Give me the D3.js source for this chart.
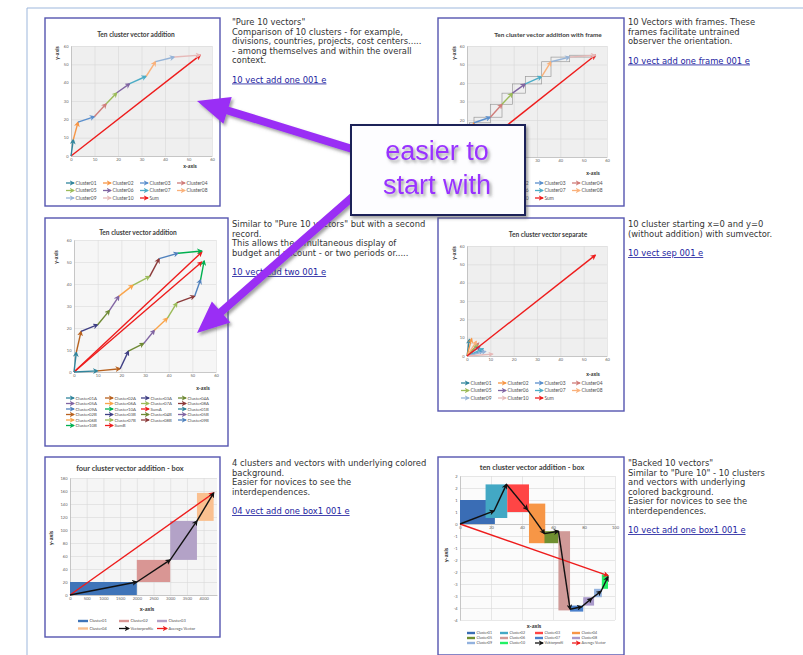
<!DOCTYPE html>
<html>
<head>
<meta charset="utf-8">
<script src="https://cdn.jsdelivr.net/npm/d3@7"></script>
<style>
body { margin: 0; background: #fff; }
svg { display: block; }
</style>
</head>
<body>
<div id="content"></div>
<script>
// page size
var width = 803, height = 655;

var svg = d3.select("#content")
    .append("svg")
    .attr("width", width)
    .attr("height", height);
var defs = svg.append("defs");

// ---------- data ----------
var clusterNames = ["Cluster01", "Cluster02", "Cluster03", "Cluster04", "Cluster05",
                    "Cluster06", "Cluster07", "Cluster08", "Cluster09", "Cluster10"];
var clusterColors = ["#31859c", "#f79646", "#5b8fcc", "#d07c79", "#9bbb59",
                     "#8064a2", "#4bacc6", "#fab17a", "#95b3d7", "#e6b9b8"];
var sumColor = "#ee1c1c";

var ticks60 = [0, 10, 20, 30, 40, 50, 60];

// tips of the added vectors ("Pure 10 vectors")
var addX = [0, 1, 3, 10, 15, 19.5, 25, 32, 36, 44, 55];
var addY = [0, 9, 18.5, 21.5, 28.5, 34.5, 39.5, 43.5, 51.5, 54, 55];

// the same ten vectors drawn from the origin
var sepX = [1, 2, 7, 5, 4.5, 5.5, 7, 4, 8, 11];
var sepY = [9, 9.5, 3, 7, 6, 5, 4, 8, 2.5, 1];

// two records A and B
var twoColors = ["#31859c", "#b8621f", "#3f3f85", "#6f8a35", "#8064a2",
                 "#f9a44a", "#9bbb59", "#8b3a3a", "#4f81bd", "#00b050"];
var twoAX = [0, 1, 3, 10, 15, 19, 25, 32, 36, 44, 54];
var twoAY = [0, 9, 18.5, 21.5, 28, 34.5, 39.5, 43.5, 51.5, 54, 55];
var twoBX = [0, 10, 19.5, 23, 29.5, 34, 39.5, 43.5, 51, 53.5, 55];
var twoBY = [0, 0.5, 1.5, 9.5, 13, 19, 24.5, 31.5, 34.5, 42, 50.5];
var sumAEnd = [54, 54.5];
var sumBEnd = [54, 50];

// four cluster box chart
var box4Names = ["Cluster01", "Cluster02", "Cluster03", "Cluster04"];
var box4Colors = ["#3f74b8", "#d99694", "#b3a2c7", "#fac090"];
var prof4X = [0, 2000, 3000, 3800, 4300];
var prof4Y = [0, 20, 54, 114, 157];
var ticks4X = [0, 500, 1000, 1500, 2000, 2500, 3000, 3500, 4000];
var ticks4Y = [0, 20, 40, 60, 80, 100, 120, 140, 160, 180];

// ten cluster box chart
var box10Colors = ["#3a6db5", "#43a8c4", "#ff4545", "#f79646", "#6f8f30",
                   "#d09a98", "#4a80cc", "#aa9acb", "#93b2de", "#22f064"];
var prof10X = [0, 22, 30, 43.5, 54.5, 63.5, 71, 78.5, 85, 91, 95.5];
var prof10Y = [0, 0.55, 1.65, 0.6, -0.4, -0.3, -3.55, -3.45, -3.1, -2.8, -2.2];
var box10X0 = [0, 16.5, 30.5, 44.5, 54.5, 63.5, 71, 79.5, 86.5, 91.5];
var box10X1 = [22.5, 30.5, 44.5, 55, 63.5, 71, 79.5, 86.5, 91.5, 95.5];
var box10Y0 = [0, 0.25, 0.5, -0.8, -0.8, -3.6, -3.65, -3.4, -3.05, -2.7];
var box10Y1 = [1, 1.65, 1.65, 0.85, -0.3, -0.3, -3.4, -3.05, -2.7, -2.1];
var avg10End = [95.5, -2.15];
var ticks10X = [0, 20, 40, 60, 80, 100];
var ticks10Y = [2, 1.5, 1, 0.5, 0, -0.5, -1, -1.5, -2, -2.5, -3, -3.5, -4];
var labels10Y = ["2", "2", "1", "1", "0", "-1", "-1", "-2", "-2", "-3", "-3", "-4", "-4"];

// ---------- helpers ----------
function marker(color) {
    var id = "m" + color.replace("#", "");
    if (defs.select("#" + id).empty()) {
        defs.append("marker")
            .attr("id", id)
            .attr("viewBox", "0 0 10 10")
            .attr("refX", 8).attr("refY", 5)
            .attr("markerWidth", 4.2).attr("markerHeight", 4.2)
            .attr("orient", "auto")
            .append("path")
            .attr("d", "M0,0L10,5L0,10L3,5z")
            .attr("fill", color);
    }
    return "url(#" + id + ")";
}

function chart(o) {
    var g = svg.append("g");
    g.append("rect")
        .attr("x", o.fx).attr("y", o.fy).attr("width", o.fw).attr("height", o.fh)
        .attr("fill", "#fff").attr("stroke", "#5555b0").attr("stroke-width", 1.4);

    var xs = d3.scaleLinear().domain(o.xd).range([o.px0, o.px1]);
    var ys = d3.scaleLinear().domain(o.yd).range([o.py0, o.py1]);

    g.append("rect")
        .attr("x", o.px0).attr("y", o.py1)
        .attr("width", o.px1 - o.px0).attr("height", o.py0 - o.py1)
        .attr("fill", o.bg);

    var gx = g.append("g").attr("transform", "translate(0," + o.py0 + ")")
        .call(d3.axisBottom(xs).tickValues(o.xticks).tickSize(o.py1 - o.py0).tickFormat(""));
    var gy = g.append("g").attr("transform", "translate(" + o.px0 + ",0)")
        .call(d3.axisLeft(ys).tickValues(o.yticks).tickSize(o.px0 - o.px1).tickFormat(""));
    [gx, gy].forEach(function(a) {
        a.select(".domain").remove();
        a.selectAll("line").attr("stroke", o.grid).attr("stroke-width", 0.6);
    });

    var xAt = o.xAt === undefined ? o.yd[0] : o.xAt;
    var lx = g.append("g").attr("transform", "translate(0," + ys(xAt) + ")")
        .call(d3.axisBottom(xs).tickValues(o.xticks).tickSize(0).tickPadding(2.5)
            .tickFormat(d3.format("d")));
    var ly = g.append("g").attr("transform", "translate(" + o.px0 + ",0)")
        .call(d3.axisLeft(ys).tickValues(o.yticks).tickSize(0).tickPadding(2.5)
            .tickFormat(o.ylabels ? function(d, i) { return o.ylabels[i]; } : d3.format("d")));
    [lx, ly].forEach(function(a) {
        a.select(".domain").attr("stroke", "#b0b0b0").attr("stroke-width", 0.6);
        a.selectAll("text").attr("font-size", o.tick).attr("fill", "#606060")
            .attr("font-family", "Lato, sans-serif");
    });

    g.append("text")
        .attr("x", o.tx).attr("y", o.ty)
        .attr("text-anchor", "middle")
        .attr("font-family", "Lato, sans-serif").attr("font-weight", "bold")
        .attr("font-size", o.tsize).attr("fill", "#404040")
        .text(o.title);
    g.append("text")
        .attr("x", o.xlab[0]).attr("y", o.xlab[1])
        .attr("text-anchor", "middle")
        .attr("font-family", "Lato, sans-serif").attr("font-weight", "bold")
        .attr("font-size", o.lsize).attr("fill", "#303030")
        .text("x-axis");
    g.append("text")
        .attr("transform", "translate(" + o.ylab[0] + "," + o.ylab[1] + ") rotate(-90)")
        .attr("text-anchor", "middle")
        .attr("font-family", "Lato, sans-serif").attr("font-weight", "bold")
        .attr("font-size", o.lsize).attr("fill", "#303030")
        .text("y-axis");
    return { g: g, xs: xs, ys: ys };
}

// consecutive arrows through a list of points
function chain(c, px, py, colors, sw) {
    c.g.selectAll(null)
        .data(d3.range(px.length - 1))
        .join("line")
        .attr("x1", function(i) { return c.xs(px[i]); })
        .attr("y1", function(i) { return c.ys(py[i]); })
        .attr("x2", function(i) { return c.xs(px[i + 1]); })
        .attr("y2", function(i) { return c.ys(py[i + 1]); })
        .attr("stroke", function(i) { return colors[i]; })
        .attr("stroke-width", sw)
        .attr("marker-end", function(i) { return marker(colors[i]); });
}

function vec(c, x0, y0, x1, y1, color, sw) {
    c.g.append("line")
        .attr("x1", c.xs(x0)).attr("y1", c.ys(y0))
        .attr("x2", c.xs(x1)).attr("y2", c.ys(y1))
        .attr("stroke", color).attr("stroke-width", sw)
        .attr("marker-end", marker(color));
}

function legend(g, items, cols, rows, fs, len) {
    items.forEach(function(it, i) {
        var x = cols[i % cols.length], y = rows[Math.floor(i / cols.length)];
        if (it.bar) {
            g.append("rect").attr("x", x).attr("y", y - 1.2).attr("width", len).attr("height", 2.4)
                .attr("fill", it.color);
        } else {
            g.append("line").attr("x1", x).attr("y1", y).attr("x2", x + len).attr("y2", y)
                .attr("stroke", it.color).attr("stroke-width", 1.3)
                .attr("marker-end", marker(it.color));
        }
        g.append("text").attr("x", x + len + 1.5).attr("y", y + fs * 0.35)
            .attr("font-family", "Lato, sans-serif").attr("font-size", fs).attr("fill", "#505050")
            .text(it.name);
    });
}

var tenLegend = clusterNames.map(function(n, i) { return { name: n, color: clusterColors[i] }; })
    .concat([{ name: "Sum", color: sumColor }]);

// ---------- page frame ----------
svg.append("line").attr("x1", 27).attr("y1", 8).attr("x2", width).attr("y2", 8)
    .attr("stroke", "#9db7dc").attr("stroke-width", 1);
svg.append("line").attr("x1", 27).attr("y1", 8).attr("x2", 27).attr("y2", height)
    .attr("stroke", "#9db7dc").attr("stroke-width", 1);

// ---------- chart 1: Ten cluster vector addition ----------
var c1 = chart({
    fx: 45, fy: 18, fw: 175, fh: 188, title: "Ten cluster vector addition", tx: 136, ty: 37, tsize: 6.6,
    xd: [0, 60], yd: [0, 60], px0: 71, px1: 212, py0: 156, py1: 46,
    xticks: ticks60, yticks: ticks60, bg: "#efefef", grid: "#d6d6d6", tick: 4,
    xlab: [190, 168], ylab: [59, 53], lsize: 5.2
});
vec(c1, 0, 0, addX[10], addY[10], sumColor, 1.4);
chain(c1, addX, addY, clusterColors, 1.4);
legend(c1.g, tenLegend, [66, 103, 140, 177], [183, 190.5, 198], 4.9, 8);

// ---------- chart 2: with frame ----------
var c2 = chart({
    fx: 438, fy: 18, fw: 186, fh: 188, title: "Ten cluster vector addition with frame", tx: 548, ty: 37, tsize: 6.4,
    xd: [0, 60], yd: [0, 60], px0: 467, px1: 607, py0: 157, py1: 46,
    xticks: ticks60, yticks: ticks60, bg: "#efefef", grid: "#d6d6d6", tick: 4,
    xlab: [593, 175], ylab: [456, 53], lsize: 5.2
});
c2.g.selectAll(null)
    .data(d3.range(addX.length - 1))
    .join("rect")
    .attr("x", function(i) { return c2.xs(addX[i]); })
    .attr("y", function(i) { return c2.ys(addY[i + 1]); })
    .attr("width", function(i) { return c2.xs(addX[i + 1]) - c2.xs(addX[i]); })
    .attr("height", function(i) { return c2.ys(addY[i]) - c2.ys(addY[i + 1]); })
    .attr("fill", "none").attr("stroke", "#9a9a9a").attr("stroke-width", 0.7);
vec(c2, 0, 0, addX[10], addY[10], sumColor, 1.4);
chain(c2, addX, addY, clusterColors, 1.4);
legend(c2.g, tenLegend, [461, 498, 535, 572], [183, 190.5, 198], 4.9, 8);

// ---------- chart 3: two records ----------
var c3 = chart({
    fx: 45, fy: 218, fw: 183, fh: 228, title: "Ten cluster vector addition", tx: 138, ty: 235, tsize: 6.6,
    xd: [0, 60], yd: [0, 60], px0: 74, px1: 216, py0: 372, py1: 240,
    xticks: ticks60, yticks: ticks60, bg: "#f6f6f6", grid: "#dcdcdc", tick: 4,
    xlab: [203, 390], ylab: [58, 257], lsize: 5.2
});
vec(c3, 0, 0, sumAEnd[0], sumAEnd[1], sumColor, 1.4);
vec(c3, 0, 0, sumBEnd[0], sumBEnd[1], sumColor, 1.4);
chain(c3, twoAX, twoAY, twoColors, 1.4);
chain(c3, twoBX, twoBY, twoColors, 1.4);
var twoLegend = [];
["A", "B"].forEach(function(s) {
    twoColors.forEach(function(col, i) {
        twoLegend.push({ name: clusterNames[i] + s, color: col });
    });
    twoLegend.push({ name: "Sum" + s, color: sumColor });
});
legend(c3.g, twoLegend, [66, 105, 141, 178], [398, 403.5, 409, 414.5, 420, 425.5], 4.3, 8);

// ---------- chart 4: separate ----------
var c4 = chart({
    fx: 438, fy: 218, fw: 186, fh: 193, title: "Ten cluster vector separate", tx: 548, ty: 237, tsize: 6.6,
    xd: [0, 60], yd: [0, 60], px0: 467, px1: 607, py0: 356, py1: 246,
    xticks: ticks60, yticks: ticks60, bg: "#efefef", grid: "#d6d6d6", tick: 4,
    xlab: [593, 376], ylab: [456, 253], lsize: 5.2
});
sepX.forEach(function(d, i) { vec(c4, 0, 0, sepX[i], sepY[i], clusterColors[i], 1.3); });
vec(c4, 0, 0, addX[10], addY[10], sumColor, 1.4);
legend(c4.g, tenLegend, [461, 498, 535, 572], [383, 390.5, 398], 4.9, 8);

// ---------- chart 5: four cluster box ----------
var c5 = chart({
    fx: 45, fy: 457, fw: 175, fh: 180, title: "four cluster vector addition - box", tx: 130, ty: 471, tsize: 7.4,
    xd: [0, 4400], yd: [0, 180], px0: 70, px1: 217, py0: 595, py1: 478,
    xticks: ticks4X, yticks: ticks4Y, bg: "#f5f5f5", grid: "#d8d8d8", tick: 4,
    xlab: [147, 611], ylab: [53, 538], lsize: 5.6
});
c5.g.selectAll(null)
    .data(d3.range(prof4X.length - 1))
    .join("rect")
    .attr("x", function(i) { return c5.xs(prof4X[i]); })
    .attr("y", function(i) { return c5.ys(prof4Y[i + 1]); })
    .attr("width", function(i) { return c5.xs(prof4X[i + 1]) - c5.xs(prof4X[i]); })
    .attr("height", function(i) { return c5.ys(prof4Y[i]) - c5.ys(prof4Y[i + 1]); })
    .attr("fill", function(i) { return box4Colors[i]; });
vec(c5, 0, 0, prof4X[4], prof4Y[4], sumColor, 1.4);
chain(c5, prof4X, prof4Y, ["#111", "#111", "#111", "#111"], 1.4);
legend(c5.g, box4Names.map(function(n, i) { return { name: n, color: box4Colors[i], bar: true }; })
    .concat([{ name: "Vectorprofile", color: "#111" }, { name: "Average Vector", color: sumColor }]),
    [78, 119, 157], [621, 628.5], 4, 10);

// ---------- chart 6: ten cluster box ----------
var c6 = chart({
    fx: 438, fy: 457, fw: 186, fh: 198, title: "ten cluster vector addition - box", tx: 532, ty: 470, tsize: 7.4,
    xd: [0, 100], yd: [-4, 2], px0: 460, px1: 615, py0: 620, py1: 476,
    xticks: ticks10X, yticks: ticks10Y, ylabels: labels10Y, xAt: 0,
    bg: "#fbfbfb", grid: "#d8d8d8", tick: 4,
    xlab: [534, 628], ylab: [448, 555], lsize: 5.6
});
c6.g.selectAll(null)
    .data(d3.range(box10X0.length))
    .join("rect")
    .attr("x", function(i) { return c6.xs(box10X0[i]); })
    .attr("y", function(i) { return c6.ys(box10Y1[i]); })
    .attr("width", function(i) { return c6.xs(box10X1[i]) - c6.xs(box10X0[i]); })
    .attr("height", function(i) { return c6.ys(box10Y0[i]) - c6.ys(box10Y1[i]); })
    .attr("fill", function(i) { return box10Colors[i]; });
vec(c6, 0, 0, avg10End[0], avg10End[1], sumColor, 1.4);
chain(c6, prof10X, prof10Y, d3.range(10).map(function() { return "#111"; }), 1.4);
legend(c6.g, clusterNames.map(function(n, i) { return { name: n, color: box10Colors[i], bar: true }; })
    .concat([{ name: "Vektorprofil", color: "#111" }, { name: "Average Vector", color: sumColor }]),
    [467, 500, 535, 572], [633, 638, 643], 3.6, 8);

// ---------- descriptions ----------
var blocks = [
    { x: 232, y: 25, lines: ["\"Pure 10 vectors\"", "Comparison of 10 clusters - for example,",
        "divisions, countries, projects, cost centers.....", "- among themselves and within the overall",
        "context."], link: "10 vect add one 001 e" },
    { x: 628, y: 25, lines: ["10 Vectors with frames. These", "frames facilitate untrained",
        "observer the orientation."], link: "10 vect add one frame 001 e" },
    { x: 232, y: 227, lines: ["Similar to \"Pure 10 vectors\" but with a second", "record.",
        "This allows the simultaneous display of", "budget and account - or two periods or....."],
        link: "10 vect add two 001 e" },
    { x: 628, y: 227, lines: ["10 cluster starting x=0 and y=0", "(without addition) with sumvector."],
        link: "10 vect sep 001 e" },
    { x: 232, y: 466, lines: ["4 clusters and vectors with underlying colored", "background.",
        "Easier for novices to see the", "interdependences."], link: "04 vect add one box1 001 e" },
    { x: 628, y: 466, lines: ["\"Backed 10 vectors\"", "Similar to \"Pure 10\" - 10 clusters",
        "and vectors with underlying", "colored background.", "Easier for novices to see the",
        "interdependences."], link: "10 vect add one box1 001 e" }
];
var lineH = 9.5;
blocks.forEach(function(b) {
    var t = svg.append("text")
        .attr("font-family", "'DejaVu Sans', Verdana, sans-serif")
        .attr("font-size", 8.4).attr("fill", "#333");
    b.lines.forEach(function(l, i) {
        t.append("tspan").attr("x", b.x).attr("y", b.y + i * lineH).text(l);
    });
    svg.append("text")
        .attr("x", b.x).attr("y", b.y + (b.lines.length - 1) * lineH + 19.5)
        .attr("font-family", "'DejaVu Sans', Verdana, sans-serif")
        .attr("font-size", 8.4).attr("fill", "#2323a0")
        .attr("text-decoration", "underline")
        .text(b.link);
});

// ---------- callout ----------
var box = { x: 351, y: 125, w: 174, h: 90 };

// chart-2 texts fully hidden behind the callout are not drawn
c2.g.selectAll("text").each(function() {
    var r = this.getBoundingClientRect();
    if (r.left >= box.x && r.right <= box.x + box.w && r.top >= box.y && r.bottom <= box.y + box.h) {
        d3.select(this).remove();
    }
});

var shadow = defs.append("filter").attr("id", "shadow").attr("x", "-20%").attr("y", "-20%")
    .attr("width", "150%").attr("height", "150%");
shadow.append("feDropShadow").attr("dx", 2).attr("dy", 2.5).attr("stdDeviation", 1.6)
    .attr("flood-color", "#555").attr("flood-opacity", 0.55);

function bigArrow(x1, y1, x2, y2, sw, hl, hw) {
    var dx = x2 - x1, dy = y2 - y1, L = Math.hypot(dx, dy);
    var ux = dx / L, uy = dy / L, nx = -uy, ny = ux;
    var bx = x2 - ux * hl, by = y2 - uy * hl;
    var p = [
        [x1 + nx * sw / 2, y1 + ny * sw / 2], [bx + nx * sw / 2, by + ny * sw / 2],
        [bx + nx * hw / 2, by + ny * hw / 2], [x2, y2],
        [bx - nx * hw / 2, by - ny * hw / 2], [bx - nx * sw / 2, by - ny * sw / 2],
        [x1 - nx * sw / 2, y1 - ny * sw / 2]
    ];
    svg.append("polygon")
        .attr("points", p.map(function(d) { return d.join(","); }).join(" "))
        .attr("fill", "#9a2ff5")
        .attr("filter", "url(#shadow)");
}
bigArrow(362, 152, 197, 101, 8, 32, 28);
bigArrow(365, 186, 197, 333, 8, 32, 28);

svg.append("rect")
    .attr("x", box.x).attr("y", box.y).attr("width", box.w).attr("height", box.h)
    .attr("fill", "#fdfdff").attr("stroke", "#1b2158").attr("stroke-width", 2)
    .attr("filter", "url(#shadow)");
var ct = svg.append("text")
    .attr("text-anchor", "middle")
    .attr("font-family", "'Liberation Sans', Arial, sans-serif")
    .attr("font-size", 27).attr("fill", "#9933ff")
    .attr("filter", "url(#shadow)");
ct.append("tspan").attr("x", 437).attr("y", 160).text("easier to");
ct.append("tspan").attr("x", 437).attr("y", 194).text("start with");
</script>
</body>
</html>
